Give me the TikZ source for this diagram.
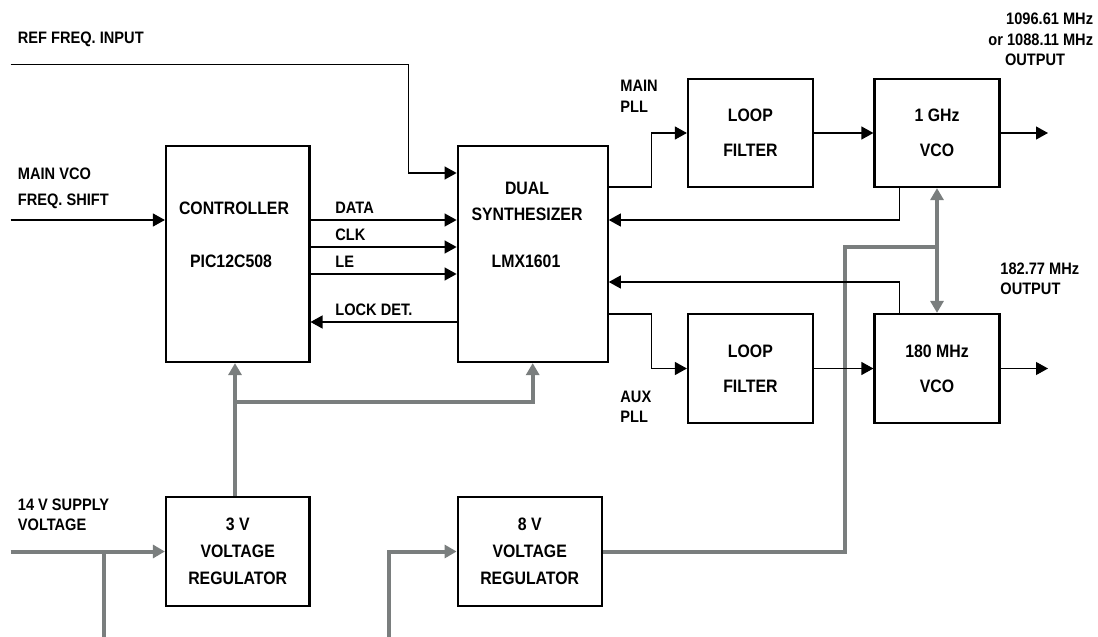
\documentclass[tikz,border=0pt]{standalone}
\usepackage{fontspec}
\setmainfont{Liberation Sans}[FakeStretch=0.88]
\usepackage{tikz}
\usetikzlibrary{arrows.meta, positioning}

\definecolor{pwrgray}{RGB}{122,126,126}

\tikzset{
  blk/.style={draw, line width=1.1pt, inner sep=0pt, align=center},
  boxtxt/.style={inner sep=0pt, font=\fontsize{9}{17.5}\selectfont\bfseries},
  lbl/.style={inner sep=0pt, anchor=west, align=left, font=\fontsize{8.3}{10}\selectfont\bfseries},
  sig/.style={line width=0.6pt, -{Triangle[length=6pt,width=6.5pt]}},
  pwr/.style={draw=pwrgray, line width=2pt},
  pwrtip/.style={pwr, -{Triangle[length=6pt,width=6.5pt]}},
}

\begin{document}
\begin{tikzpicture}[x=0.5pt, y=-0.5pt]
  \useasboundingbox (0,0) rectangle (1098,637);

  % blocks
  \node[blk, minimum width=71.7pt, minimum height=108pt] (ctrl) at (237.7,254) {};
  \node[boxtxt] (ctrlname) at (234,208) {CONTROLLER};
  \node[boxtxt] (ctrlpart) at (231,261) {PIC12C508};
  \node[blk, minimum width=75pt, minimum height=108pt] (synth) at (532.7,254) {};
  \node[boxtxt] (synname) at (527,188) {DUAL};
  \node[boxtxt] (synname2) at (527,214) {SYNTHESIZER};
  \node[boxtxt] (synpart) at (526,261) {LMX1601};
  \node[blk, boxtxt, minimum width=62.4pt, minimum height=54pt] (lfa) at (750.4,133) {LOOP\\FILTER};
  \node[blk, boxtxt, minimum width=62.5pt, minimum height=54pt] (vcoa) at (937,133) {1 GHz\\VCO};
  \node[blk, boxtxt, minimum width=62.4pt, minimum height=54.5pt] (lfb) at (750.4,368.5) {LOOP\\FILTER};
  \node[blk, boxtxt, minimum width=62.5pt, minimum height=54.5pt] (vcob) at (937,368.5) {180 MHz\\VCO};
  \node[blk, boxtxt, font=\fontsize{9}{13.5}\selectfont\bfseries, minimum width=71.7pt, minimum height=54.5pt] (rega) at (237.7,551.5) {3 V\\VOLTAGE\\REGULATOR};
  \node[blk, boxtxt, font=\fontsize{9}{13.5}\selectfont\bfseries, minimum width=72pt, minimum height=54.5pt] (regb) at (529.7,551.5) {8 V\\VOLTAGE\\REGULATOR};

  % free ends
  \coordinate (refin) at (10.5,64.5);
  \coordinate (shiftin) at (10.5,220);
  \coordinate (supin) at (10.5,551.5);
  \coordinate (outa) at (1048,133);
  \coordinate (outb) at (1048,368.5);

  % labels
  \node[lbl] (reflbl) at (17.5,39) {REF FREQ. INPUT};
  \node[lbl, font=\fontsize{8.3}{13}\selectfont\bfseries] (shiftlbl) at (17.5,188) {MAIN VCO\\FREQ. SHIFT};
  \node[lbl] (suplbl) at (17.5,515) {14 V SUPPLY\\VOLTAGE};
  \node[lbl] (datalbl) at (335,208) {DATA};
  \node[lbl] (clklbl) at (335,235) {CLK};
  \node[lbl] (lelbl) at (335,262) {LE};
  \node[lbl] (locklbl) at (335,310) {LOCK DET.};
  \node[lbl, font=\fontsize{8.3}{10.5}\selectfont\bfseries] (mainlbl) at (620,96.5) {MAIN\\PLL};
  \node[lbl] (auxlbl) at (620,407) {AUX\\PLL};
  \node[lbl, anchor=east, align=right, font=\fontsize{8.3}{10.3}\selectfont\bfseries] (outalbl) at (1093.5,39.5) {1096.61 MHz\\or 1088.11 MHz\\OUTPUT\hspace*{14pt}};
  \node[lbl] (outblbl) at (1000,279) {182.77 MHz\\OUTPUT};

  % supply lines
  \draw[pwrtip] (supin) -- (rega.west);
  \draw[pwr] (104,551.5) -- (104,637);
  \draw[pwrtip] (389,637) |- (regb.west);
  \draw[pwrtip] (rega.north -| 235,0) -- (ctrl.south -| 235,0);
  \draw[pwrtip] (235,402) -| (synth.south);
  \draw[pwr] (regb.east) -| (844.7,247) -- (937,247);
  \draw[pwr, {Triangle[length=6pt,width=6.5pt]}-{Triangle[length=6pt,width=6.5pt]}] (vcoa.south) -- (vcob.north);

  % signal lines
  \draw[sig] (refin) -- (408.6,64.5) |- (synth.west |- 0,173);
  \draw[sig] (shiftin) -- (ctrl.west |- 0,220);
  \draw[sig] (ctrl.east |- 0,220) -- (synth.west |- 0,220);
  \draw[sig] (ctrl.east |- 0,247) -- (synth.west |- 0,247);
  \draw[sig] (ctrl.east |- 0,274) -- (synth.west |- 0,274);
  \draw[sig] (synth.west |- 0,322) -- (ctrl.east |- 0,322);
  \draw[sig] (synth.east |- 0,187) -- (651.4,187) |- (lfa.west);
  \draw[sig] (lfa.east) -- (vcoa.west);
  \draw[sig] (vcoa.east) -- (outa);
  \draw[sig] (vcoa.south -| 899.5,0) |- (synth.east |- 0,220);
  \draw[sig] (synth.east |- 0,314) -- (651.4,314) |- (lfb.west);
  \draw[sig] (lfb.east) -- (vcob.west);
  \draw[sig] (vcob.east) -- (outb);
  \draw[sig] (vcob.north -| 899.5,0) |- (synth.east |- 0,282);
\end{tikzpicture}
\end{document}
